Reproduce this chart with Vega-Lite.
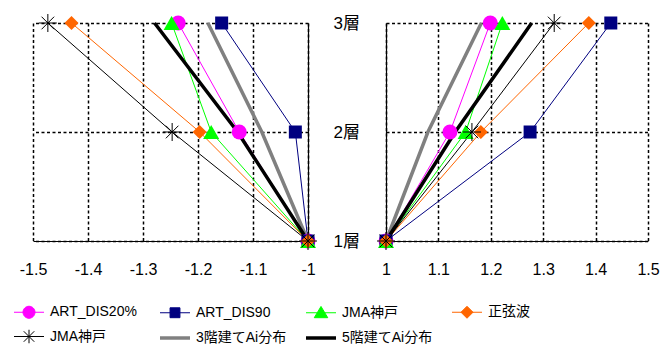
{
  "$schema": "https://vega.github.io/schema/vega-lite/v6.json",
  "autosize": {"type": "pad"},
  "padding": {"left": 12, "top": 12, "right": 0, "bottom": 0},
  "bounds": "flush",
  "spacing": 78,
  "data": {"values": [
    {"panel": "L", "series": "1ART_DIS20%", "story": 1, "x": -1},
    {"panel": "L", "series": "1ART_DIS20%", "story": 2, "x": -1.125},
    {"panel": "L", "series": "1ART_DIS20%", "story": 3, "x": -1.236},
    {"panel": "L", "series": "2ART_DIS90", "story": 1, "x": -1},
    {"panel": "L", "series": "2ART_DIS90", "story": 2, "x": -1.023},
    {"panel": "L", "series": "2ART_DIS90", "story": 3, "x": -1.157},
    {"panel": "L", "series": "3JMA神戸", "story": 1, "x": -1},
    {"panel": "L", "series": "3JMA神戸", "story": 2, "x": -1.176},
    {"panel": "L", "series": "3JMA神戸", "story": 3, "x": -1.248},
    {"panel": "L", "series": "4正弦波", "story": 1, "x": -1},
    {"panel": "L", "series": "4正弦波", "story": 2, "x": -1.197},
    {"panel": "L", "series": "4正弦波", "story": 3, "x": -1.43},
    {"panel": "L", "series": "5JMA神戸", "story": 1, "x": -1},
    {"panel": "L", "series": "5JMA神戸", "story": 2, "x": -1.247},
    {"panel": "L", "series": "5JMA神戸", "story": 3, "x": -1.473},
    {"panel": "L", "series": "63階建てAi分布", "story": 1, "x": -1},
    {"panel": "L", "series": "63階建てAi分布", "story": 2, "x": -1.084},
    {"panel": "L", "series": "63階建てAi分布", "story": 3, "x": -1.182},
    {"panel": "L", "series": "75階建てAi分布", "story": 1, "x": -1},
    {"panel": "L", "series": "75階建てAi分布", "story": 2, "x": -1.128},
    {"panel": "L", "series": "75階建てAi分布", "story": 3, "x": -1.279},
    {"panel": "R", "series": "1ART_DIS20%", "story": 1, "x": 1},
    {"panel": "R", "series": "1ART_DIS20%", "story": 2, "x": 1.122},
    {"panel": "R", "series": "1ART_DIS20%", "story": 3, "x": 1.199},
    {"panel": "R", "series": "2ART_DIS90", "story": 1, "x": 1},
    {"panel": "R", "series": "2ART_DIS90", "story": 2, "x": 1.275},
    {"panel": "R", "series": "2ART_DIS90", "story": 3, "x": 1.429},
    {"panel": "R", "series": "3JMA神戸", "story": 1, "x": 1},
    {"panel": "R", "series": "3JMA神戸", "story": 2, "x": 1.152},
    {"panel": "R", "series": "3JMA神戸", "story": 3, "x": 1.222},
    {"panel": "R", "series": "4正弦波", "story": 1, "x": 1},
    {"panel": "R", "series": "4正弦波", "story": 2, "x": 1.181},
    {"panel": "R", "series": "4正弦波", "story": 3, "x": 1.387},
    {"panel": "R", "series": "5JMA神戸", "story": 1, "x": 1},
    {"panel": "R", "series": "5JMA神戸", "story": 2, "x": 1.164},
    {"panel": "R", "series": "5JMA神戸", "story": 3, "x": 1.321},
    {"panel": "R", "series": "63階建てAi分布", "story": 1, "x": 1},
    {"panel": "R", "series": "63階建てAi分布", "story": 2, "x": 1.08},
    {"panel": "R", "series": "63階建てAi分布", "story": 3, "x": 1.182},
    {"panel": "R", "series": "75階建てAi分布", "story": 1, "x": 1},
    {"panel": "R", "series": "75階建てAi分布", "story": 2, "x": 1.132},
    {"panel": "R", "series": "75階建てAi分布", "story": 3, "x": 1.278}
  ]},
  "hconcat": [
    {
      "width": 275,
      "height": 218,
      "transform": [{"filter": "datum.panel == 'L'"}],
      "encoding": {
        "x": {"field": "x", "type": "quantitative", "scale": {"domain": [-1.5, -1], "nice": false, "zero": false},
              "axis": {"orient": "bottom", "values": [-1.5, -1.4, -1.3, -1.2, -1.1, -1], "labelExpr": "'' + datum.value", "labelFontSize": 16, "labelPadding": 20, "title": null}},
        "y": {"field": "story", "type": "quantitative", "scale": {"domain": [1, 3], "nice": false, "zero": false},
              "axis": {"orient": "right", "values": [1, 2, 3], "labelExpr": "datum.value + '層'", "labelFontSize": 17, "labelPadding": 25, "labelAlign": "left", "labelBaseline": "middle", "labelDy": 6, "title": null}},
        "color": {"field": "series", "type": "nominal",
                  "scale": {"domain": ["1ART_DIS20%", "2ART_DIS90", "3JMA神戸", "4正弦波", "5JMA神戸", "63階建てAi分布", "75階建てAi分布"],
                            "range": ["#ff00ff", "#000080", "#00ff00", "#ff6600", "#000000", "#808080", "#000000"]}},
        "strokeWidth": {"field": "series", "type": "nominal",
                  "scale": {"type": "ordinal", "domain": ["1ART_DIS20%", "2ART_DIS90", "3JMA神戸", "4正弦波", "5JMA神戸", "63階建てAi分布", "75階建てAi分布"],
                            "range": [1, 1, 1, 1, 1, 3.5, 3.5]}}
      },
      "layer": [
        {
          "transform": [{"filter": "false"}],
          "mark": {"type": "point", "filled": true, "opacity": 1},
          "encoding": {
            "color": {"field": "series", "type": "nominal",
                      "scale": {"domain": ["1ART_DIS20%", "2ART_DIS90", "3JMA神戸", "4正弦波", "5JMA神戸", "63階建てAi分布", "75階建てAi分布"],
                                "range": ["#ff00ff", "#000080", "#00ff00", "#ff6600", "#000000", "#808080", "#000000"]},
                      "legend": {"orient": "none", "legendX": -21, "legendY": 273, "columns": 4, "direction": "horizontal", "title": null, "symbolSize": 900, "labelExpr": "substring(datum.label, 1)", "labelFontSize": 14, "labelFont": "Liberation Sans, Noto Sans CJK JP", "labelColor": "#000", "labelOffset": 4, "columnPadding": 12, "rowPadding": -3, "gridAlign": "all", "padding": 0}},
            "shape": {"field": "series", "type": "nominal",
                      "scale": {"domain": ["1ART_DIS20%", "2ART_DIS90", "3JMA神戸", "4正弦波", "5JMA神戸", "63階建てAi分布", "75階建てAi分布"],
                                "range": [
                                  "M-1,0H1M0.4,0A0.4,0.4,0,1,1,-0.4,0A0.4,0.4,0,1,1,0.4,0Z",
                                  "M-1,0H1M-0.33,-0.33H0.33V0.33H-0.33Z",
                                  "M-1,0H1M0,-0.42L0.45,0.33H-0.45Z",
                                  "M-1,0H1M-0.4,0L0,-0.4L0.4,0L0,0.4Z",
                                  "M-1,0H1M0,-0.45V0.45M-0.35,-0.35L0.35,0.35M-0.35,0.35L0.35,-0.35",
                                  "M-1,0H1",
                                  "M-1,0H1"]},
                      "legend": {"orient": "none", "legendX": -21, "legendY": 273, "columns": 4, "direction": "horizontal", "title": null, "symbolSize": 900, "labelExpr": "substring(datum.label, 1)", "labelFontSize": 14, "labelFont": "Liberation Sans, Noto Sans CJK JP", "labelColor": "#000", "labelOffset": 4, "columnPadding": 12, "rowPadding": -3, "gridAlign": "all", "padding": 0}},
            "strokeWidth": {"field": "series", "type": "nominal",
                      "scale": {"type": "ordinal", "domain": ["1ART_DIS20%", "2ART_DIS90", "3JMA神戸", "4正弦波", "5JMA神戸", "63階建てAi分布", "75階建てAi分布"],
                                "range": [1, 1, 1, 1, 1, 3.5, 3.5]},
                      "legend": {"orient": "none", "legendX": -21, "legendY": 273, "columns": 4, "direction": "horizontal", "title": null, "symbolSize": 900, "labelExpr": "substring(datum.label, 1)", "labelFontSize": 14, "labelFont": "Liberation Sans, Noto Sans CJK JP", "labelColor": "#000", "labelOffset": 4, "columnPadding": 12, "rowPadding": -3, "gridAlign": "all", "padding": 0}}
          }
        },
        {
          "transform": [{"filter": {"field": "series", "oneOf": ["1ART_DIS20%", "2ART_DIS90", "3JMA神戸", "4正弦波", "5JMA神戸"]}}],
          "mark": {"type": "line"},
          "encoding": {"detail": {"field": "series"}, "order": {"field": "story", "type": "quantitative"}}
        },
        {
          "transform": [{"filter": {"field": "series", "oneOf": ["63階建てAi分布", "75階建てAi分布"]}}],
          "mark": {"type": "line"},
          "encoding": {"detail": {"field": "series"}, "order": {"field": "story", "type": "quantitative"}}
        },
        {
          "transform": [{"filter": {"field": "series", "equal": "1ART_DIS20%"}}],
          "mark": {"type": "point", "shape": "circle", "filled": true, "size": 225, "opacity": 1}
        },
        {
          "transform": [{"filter": {"field": "series", "equal": "2ART_DIS90"}}],
          "mark": {"type": "point", "shape": "square", "filled": true, "size": 169, "opacity": 1}
        },
        {
          "transform": [{"filter": {"field": "series", "equal": "3JMA神戸"}}],
          "mark": {"type": "point", "shape": "triangle-up", "filled": true, "size": 256, "opacity": 1}
        },
        {
          "transform": [{"filter": {"field": "series", "equal": "4正弦波"}}],
          "mark": {"type": "point", "shape": "diamond", "filled": true, "size": 196, "opacity": 1}
        },
        {
          "transform": [{"filter": {"field": "series", "equal": "5JMA神戸"}}],
          "mark": {"type": "point", "shape": "M-1,0H1M0,-1V1M-0.7,-0.7L0.7,0.7M-0.7,0.7L0.7,-0.7", "filled": false, "size": 324, "opacity": 1}
        }
      ]
    },
    {
      "width": 262,
      "height": 218,
      "transform": [{"filter": "datum.panel == 'R'"}],
      "encoding": {
        "x": {"field": "x", "type": "quantitative", "scale": {"domain": [1, 1.5], "nice": false, "zero": false},
              "axis": {"orient": "bottom", "values": [1, 1.1, 1.2, 1.3, 1.4, 1.5], "labelExpr": "'' + datum.value", "labelFontSize": 16, "labelPadding": 20, "title": null}},
        "y": {"field": "story", "type": "quantitative", "scale": {"domain": [1, 3], "nice": false, "zero": false},
              "axis": {"orient": "left", "values": [1, 2, 3], "labels": false, "title": null}},
        "color": {"field": "series", "type": "nominal",
                  "scale": {"domain": ["1ART_DIS20%", "2ART_DIS90", "3JMA神戸", "4正弦波", "5JMA神戸", "63階建てAi分布", "75階建てAi分布"],
                            "range": ["#ff00ff", "#000080", "#00ff00", "#ff6600", "#000000", "#808080", "#000000"]}},
        "strokeWidth": {"field": "series", "type": "nominal",
                  "scale": {"type": "ordinal", "domain": ["1ART_DIS20%", "2ART_DIS90", "3JMA神戸", "4正弦波", "5JMA神戸", "63階建てAi分布", "75階建てAi分布"],
                            "range": [1, 1, 1, 1, 1, 3.5, 3.5]}}
      },
      "layer": [
        {
          "transform": [{"filter": {"field": "series", "oneOf": ["1ART_DIS20%", "2ART_DIS90", "3JMA神戸", "4正弦波", "5JMA神戸"]}}],
          "mark": {"type": "line"},
          "encoding": {"detail": {"field": "series"}, "order": {"field": "story", "type": "quantitative"}}
        },
        {
          "transform": [{"filter": {"field": "series", "oneOf": ["63階建てAi分布", "75階建てAi分布"]}}],
          "mark": {"type": "line"},
          "encoding": {"detail": {"field": "series"}, "order": {"field": "story", "type": "quantitative"}}
        },
        {
          "transform": [{"filter": {"field": "series", "equal": "1ART_DIS20%"}}],
          "mark": {"type": "point", "shape": "circle", "filled": true, "size": 225, "opacity": 1}
        },
        {
          "transform": [{"filter": {"field": "series", "equal": "2ART_DIS90"}}],
          "mark": {"type": "point", "shape": "square", "filled": true, "size": 169, "opacity": 1}
        },
        {
          "transform": [{"filter": {"field": "series", "equal": "3JMA神戸"}}],
          "mark": {"type": "point", "shape": "triangle-up", "filled": true, "size": 256, "opacity": 1}
        },
        {
          "transform": [{"filter": {"field": "series", "equal": "4正弦波"}}],
          "mark": {"type": "point", "shape": "diamond", "filled": true, "size": 196, "opacity": 1}
        },
        {
          "transform": [{"filter": {"field": "series", "equal": "5JMA神戸"}}],
          "mark": {"type": "point", "shape": "M-1,0H1M0,-1V1M-0.7,-0.7L0.7,0.7M-0.7,0.7L0.7,-0.7", "filled": false, "size": 324, "opacity": 1}
        }
      ]
    }
  ],
  "config": {
    "view": {"stroke": null},
    "font": "Liberation Sans",
    "axis": {
      "grid": true, "gridColor": "#000000", "gridDash": [3, 2.5], "gridWidth": 1.5, "gridOpacity": 1,
      "domain": true, "domainColor": "#000000", "domainWidth": 1.2,
      "ticks": false, "tickSize": 0,
      "labelColor": "#000000", "labelFont": "Liberation Sans, Noto Sans CJK JP",
      "labelFlush": false, "labelOverlap": false, "labelBound": false
    }
  }
}
